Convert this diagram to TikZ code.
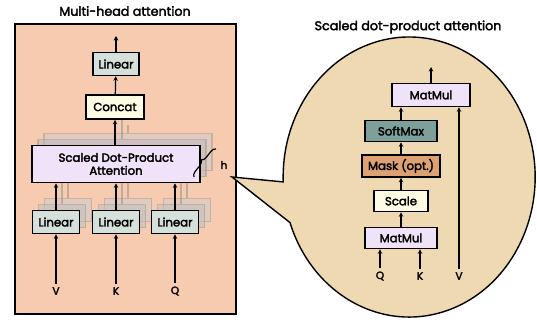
\documentclass[tikz,border=0pt]{standalone}
\usepackage{fontspec}
\setmainfont{Poppins}[UprightFeatures={FakeBold=2.6}]
\usetikzlibrary{positioning, arrows.meta, decorations.pathreplacing}

\definecolor{peach}{HTML}{F6CBB0}
\definecolor{sand}{HTML}{EFD9B3}
\definecolor{sage}{HTML}{D5E0DA}
\definecolor{cream}{HTML}{FDFBE3}
\definecolor{lilac}{HTML}{F0E2F8}
\definecolor{teal}{HTML}{7FA098}
\definecolor{apricot}{HTML}{DDA174}

\tikzset{
  blk/.style={draw, line width=1.6pt, inner sep=0pt, font=\fontsize{11.7}{13}\selectfont},
  ghost/.style={draw=black!45, line width=1.4pt, fill=#1, fill opacity=0.5, draw opacity=0.4, inner sep=0pt},
  ghostline/.style={draw=black!45, line width=1.1pt, draw opacity=0.5},
  flow/.style={->, line width=1.2pt},
  title/.style={font=\fontsize{12.7}{14}\selectfont},
  lbl/.style={font=\fontsize{10.5}{12}\selectfont}
}

\begin{document}
\begin{tikzpicture}[x=1pt, y=-1pt, >={Stealth[length=4.5pt, width=4.5pt]}]
\useasboundingbox (0,0) rectangle (537,324);

% multi-head panel
\node[title] (mhtitle) at (125,11) {Multi-head attention};
\draw[fill=peach, line width=1.4pt] (15,24) rectangle (236,314);

% stacked heads behind
\node[ghost=black!20, minimum width=168pt, minimum height=37pt] (sdpaB) at (128,152) {};
\node[ghost=lilac!60!black!60, minimum width=168pt, minimum height=37pt] (sdpaA) at (122,158) {};
\node[ghost=black!20, minimum width=47pt, minimum height=23pt] (linvB) at (68,210) {};
\node[ghost=black!25, minimum width=47pt, minimum height=23pt] (linvA) at (62,216) {};
\node[ghost=black!20, minimum width=47pt, minimum height=23pt] (linkB) at (128,210) {};
\node[ghost=black!25, minimum width=47pt, minimum height=23pt] (linkA) at (122,216) {};
\node[ghost=black!20, minimum width=47pt, minimum height=23pt] (linqB) at (187,210) {};
\node[ghost=black!25, minimum width=47pt, minimum height=23pt] (linqA) at (181,216) {};

\draw[ghostline] (linvA.north) -- (linvA.north |- sdpaA.south);
\draw[ghostline] (linvB.north) -- (linvB.north |- sdpaB.south);
\draw[ghostline] (linkA.north) -- (linkA.north |- sdpaA.south);
\draw[ghostline] (linkB.north) -- (linkB.north |- sdpaB.south);
\draw[ghostline] (linqA.north) -- (linqA.north |- sdpaA.south);
\draw[ghostline] (linqB.north) -- (linqB.north |- sdpaB.south);

% main blocks
\node[blk, fill=sage, minimum width=46pt, minimum height=23pt] (linout) at (116,64) {Linear};
\node[blk, fill=cream, minimum width=58pt, minimum height=24pt] (concat) at (115,107) {Concat};
\draw[ghostline] (sdpaA.north -| 122,0) -- (concat.south -| 122,0);
\draw[ghostline] (sdpaB.north -| 128,0) -- (128,125);
\node[blk, fill=lilac, minimum width=168pt, minimum height=37pt, align=center] (sdpa) at (116,164) {Scaled Dot-Product\\Attention};
\node[blk, fill=sage, minimum width=47pt, minimum height=23pt] (linv) at (56,222) {Linear};
\node[blk, fill=sage, minimum width=47pt, minimum height=23pt] (link) at (116,222) {Linear};
\node[blk, fill=sage, minimum width=47pt, minimum height=23pt] (linq) at (175,222) {Linear};

\node[lbl] (inv) at (56,291) {V};
\node[lbl] (ink) at (116,291) {K};
\node[lbl] (inq) at (175,291) {Q};
\coordinate (out) at (116,36);

\draw[flow] (inv) -- (linv);
\draw[flow] (ink) -- (link);
\draw[flow] (inq) -- (linq);
\draw[flow] (linv) -- (linv |- sdpa.south);
\draw[flow] (link) -- (link |- sdpa.south);
\draw[flow] (linq) -- (linq |- sdpa.south);
\draw[flow] (sdpa.north -| concat.south) -- (concat);
\draw[flow] (concat) -- (linout);
\draw[flow] (linout) -- (out);

% h heads
\node[lbl] (hh) at (224,165) {h};
\draw[line width=1.2pt, decorate, decoration={brace, amplitude=5pt}] (194,177) -- (216,149);

% zoom bubble
\node[title] (sdtitle) at (408,27) {Scaled dot-product attention};
\draw[fill=sand, line width=1.4pt] (232,177) coordinate (tip)
  (283.1,181.9) -- (tip) -- (290,222.6)
  arc[start angle=161, end angle=-182, x radius=126, y radius=140] -- cycle;

\node[blk, fill=lilac, minimum width=78pt, minimum height=23pt] (mm2) at (431,95) {MatMul};
\node[blk, fill=teal, minimum width=72pt, minimum height=21pt] (soft) at (401,131) {SoftMax};
\node[blk, fill=apricot, minimum width=78pt, minimum height=22pt] (mask) at (401,166) {Mask (opt.)};
\node[blk, fill=cream, minimum width=54pt, minimum height=21pt] (scale) at (401,201) {Scale};
\node[blk, fill=lilac, minimum width=72pt, minimum height=21pt] (mm1) at (401,238) {MatMul};

\node[lbl] (sq) at (380,276) {Q};
\node[lbl] (sk) at (420,276) {K};
\node[lbl] (sv) at (459,276) {V};
\coordinate (sout) at (431,67);

\draw[flow] (sq) -- (sq |- mm1.south);
\draw[flow] (sk) -- (sk |- mm1.south);
\draw[flow] (mm1) -- (scale);
\draw[flow] (scale) -- (mask);
\draw[flow] (mask) -- (soft);
\draw[flow] (soft) -- (soft |- mm2.south);
\draw[flow] (sv) -- (sv |- mm2.south);
\draw[flow] (mm2) -- (sout);
\end{tikzpicture}
\end{document}
